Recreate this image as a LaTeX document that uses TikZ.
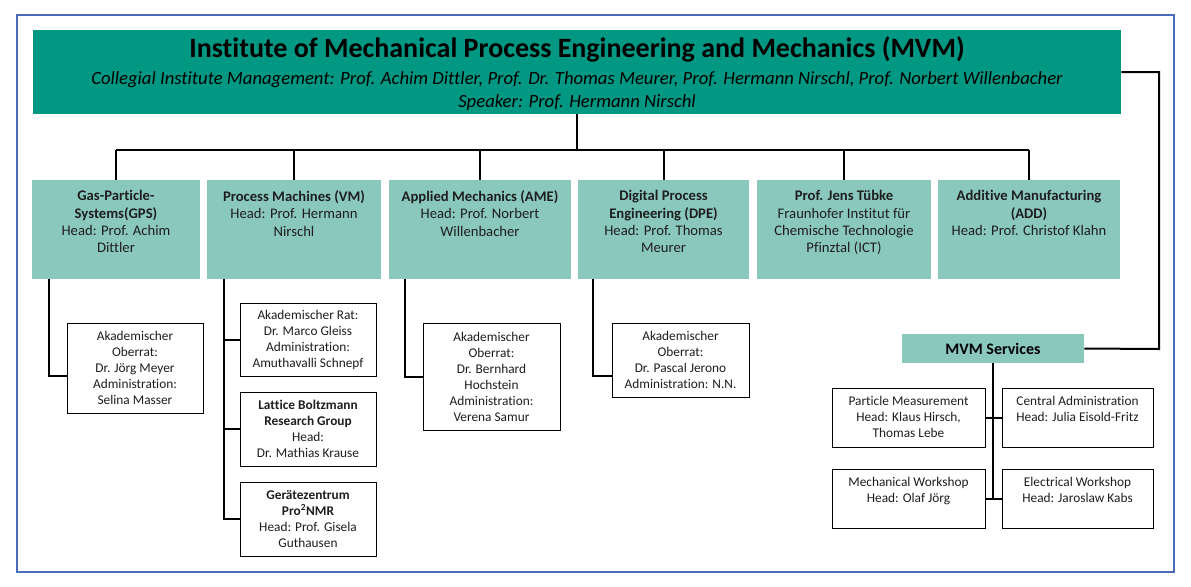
\documentclass[tikz,border=0pt]{standalone}
\usepackage{fontspec}
\setmainfont{Carlito}[Ligatures=NoCommon]
\definecolor{hdrteal}{RGB}{0,152,130}
\definecolor{lteal}{RGB}{138,200,190}
\definecolor{frameblue}{RGB}{72,108,186}
\definecolor{txt}{RGB}{30,30,30}
\begin{document}
\begin{tikzpicture}[x=0.75pt,y=-0.75pt,
  conn/.style={line width=1.5pt},
  hdrbox/.style={fill=hdrteal, inner sep=0pt, minimum width=816pt, minimum height=63pt},
  deptbox/.style={fill=lteal, inner sep=0pt, minimum height=74.25pt},
  depttext/.style={anchor=north, align=center, inner sep=0pt, text=txt, font=\fontsize{11}{13}\selectfont},
  subbox/.style={draw=black, line width=0.75pt, fill=white, inner sep=0pt, align=center, text=txt, minimum width=102pt, font=\fontsize{10}{12}\selectfont},
  svcbox/.style={fill=lteal, inner sep=0pt, minimum width=136.5pt, minimum height=21.75pt, font=\fontsize{12}{14}\selectfont\bfseries},
  servbox/.style={draw=black, line width=0.75pt, fill=white, inner sep=0pt, minimum height=44.25pt},
  servtext/.style={anchor=north, align=center, inner sep=0pt, text=txt, font=\fontsize{10}{11.75}\selectfont}
]
\useasboundingbox (0,0) rectangle (1191,586);
\draw[frameblue, line width=1.5pt] (17,15) rectangle (1174,572);

% header
\node[hdrbox] (hdr) at (577,72) {};
\node[align=center, inner sep=0pt, font=\fontsize{14}{17.25}\selectfont\itshape] (hdrt) at (577,74)
 {{\upshape\bfseries\fontsize{21}{25}\selectfont Institute of Mechanical Process Engineering and Mechanics (MVM)}\\[3pt]
  Collegial Institute Management: Prof. Achim Dittler, Prof. Dr. Thomas Meurer, Prof. Hermann Nirschl, Prof. Norbert Willenbacher\\
  Speaker: Prof. Hermann Nirschl};

% departments
\node[deptbox, minimum width=126pt]   (gps) at (116,229.5) {};
\node[deptbox, minimum width=130.5pt] (vm)  at (294,229.5) {};
\node[deptbox, minimum width=136.5pt] (ame) at (480,229.5) {};
\node[deptbox, minimum width=128.25pt](dpe) at (663.5,229.5) {};
\node[deptbox, minimum width=130.5pt] (ict) at (844,229.5) {};
\node[deptbox, minimum width=136.5pt] (add) at (1029,229.5) {};

\node[depttext] (gpst) at ([yshift=-8pt]gps.north) {\textbf{Gas-Particle-}\\\textbf{Systems(GPS)}\\Head: Prof. Achim\\Dittler};
\node[depttext] (vmt)  at ([yshift=-8pt]vm.north)  {\textbf{Process Machines (VM)}\\Head: Prof. Hermann\\Nirschl};
\node[depttext] (amet) at ([yshift=-8pt]ame.north) {\textbf{Applied Mechanics (AME)}\\Head: Prof. Norbert\\Willenbacher};
\node[depttext] (dpet) at ([yshift=-8pt]dpe.north) {\textbf{Digital Process}\\\textbf{Engineering (DPE)}\\Head: Prof. Thomas\\Meurer};
\node[depttext] (ictt) at ([yshift=-8pt]ict.north) {\textbf{Prof. Jens Tübke}\\Fraunhofer Institut für\\Chemische Technologie\\Pfinztal (ICT)};
\node[depttext] (addt) at ([yshift=-8pt]add.north) {\textbf{Additive Manufacturing}\\\textbf{(ADD)}\\Head: Prof. Christof Klahn};

% bus
\coordinate (busL) at (116,150);
\coordinate (busR) at (1029,150);
\draw[conn] (hdr.south) -- (hdr.south |- busL);
\draw[conn] (busL) -- (busR);
\foreach \d in {gps,vm,ame,dpe,ict,add} \draw[conn] (\d.north) -- (\d.north |- busL);

% sub boxes
\node[subbox, minimum height=67.5pt] (gpss) at (135,368) {Akademischer\\Oberrat:\\Dr. Jörg Meyer\\Administration:\\Selina Masser};
\node[subbox, minimum height=54.75pt] (vma) at (308,339.5) {Akademischer Rat:\\Dr. Marco Gleiss\\Administration:\\Amuthavalli Schnepf};
\node[subbox, minimum height=55.5pt] (vmb) at (308,429) {\textbf{Lattice Boltzmann}\\\textbf{Research Group}\\Head:\\Dr. Mathias Krause};
\node[subbox, minimum height=55.5pt] (vmc) at (308,519) {\textbf{Gerätezentrum}\\\textbf{Pro\textsuperscript{2}NMR}\\Head: Prof. Gisela\\Guthausen};
\node[subbox, minimum width=102.75pt, minimum height=80.25pt] (ames) at (491.5,376.5) {Akademischer\\Oberrat:\\Dr. Bernhard\\Hochstein\\Administration:\\Verena Samur};
\node[subbox, minimum width=102.75pt, minimum height=55.5pt] (dpes) at (680.5,360) {Akademischer\\Oberrat:\\Dr. Pascal Jerono\\Administration: N.N.};

\draw[conn] (gps.south west -| 49,0) |- (gpss.west |- 0,376);
\draw[conn] (vm.south west -| 224,0) |- (vmc.west);
\draw[conn] (vma.west -| 224,0) -- (vma.west);
\draw[conn] (vmb.west -| 224,0) -- (vmb.west);
\draw[conn] (ame.south west -| 405,0) |- (ames.west);
\draw[conn] (dpe.south west -| 593,0) |- (dpes.west |- 0,376);

% services
\node[svcbox] (svc) at (993,348.5) {MVM Services};
\node[servbox, minimum width=114.75pt] (pm) at (908.5,417.5) {};
\node[servbox, minimum width=113.25pt] (ca) at (1077.5,417.5) {};
\node[servbox, minimum width=114.75pt] (mw) at (908.5,498.5) {};
\node[servbox, minimum width=113.25pt] (ew) at (1077.5,498.5) {};
\node[servtext] (pmt) at ([yshift=-6.5pt]pm.north) {Particle Measurement\\Head: Klaus Hirsch,\\Thomas Lebe};
\node[servtext] (cat) at ([yshift=-6.5pt]ca.north) {Central Administration\\Head: Julia Eisold-Fritz};
\node[servtext] (mwt) at ([yshift=-6.5pt]mw.north) {Mechanical Workshop\\Head: Olaf Jörg};
\node[servtext] (ewt) at ([yshift=-6.5pt]ew.north) {Electrical Workshop\\Head: Jaroslaw Kabs};

\coordinate (svcR) at (1159,349);
\draw[conn] (hdr.east) -| (svcR) -- (svc.east);
\draw[conn] (svc.south) -- (svc.south |- mw.east);
\draw[conn] (pm.east) -- (ca.west);
\draw[conn] (mw.east) -- (ew.west);
\end{tikzpicture}
\end{document}
